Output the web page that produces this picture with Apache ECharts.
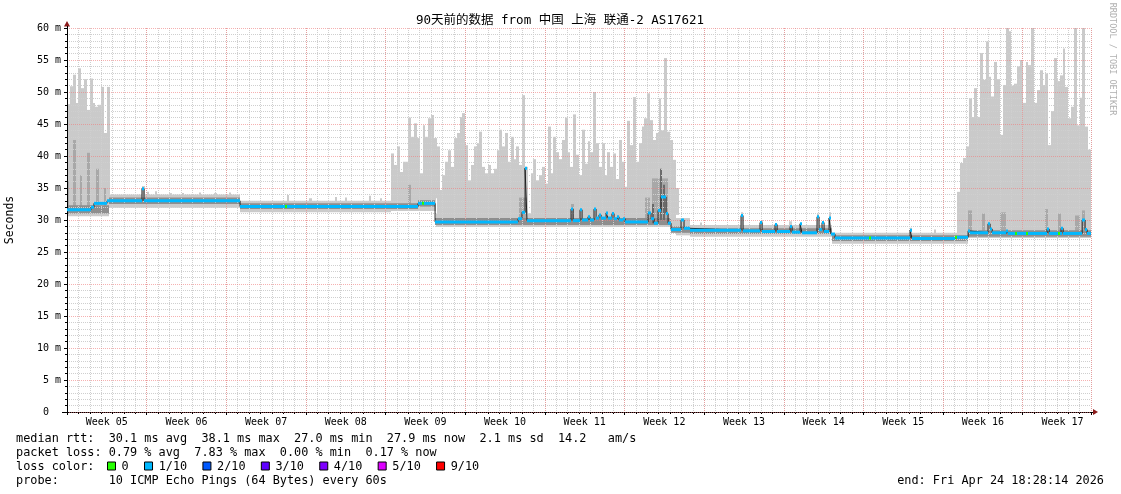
<!DOCTYPE html>
<html><head><meta charset="utf-8">
<script src="https://cdn.jsdelivr.net/npm/echarts@6/dist/echarts.min.js"></script>
<style>html,body{margin:0;padding:0;background:#fff}#c{width:1121px;height:494px}</style>
</head><body><div id="c"></div>
<script>
// ---------------- data (x in days since graph start, y in ms) ----------------
const chartTitle = '90天前的数据 from 中国 上海 联通-2 AS17621';
const weekLabels = ['Week 05','Week 06','Week 07','Week 08','Week 09','Week 10','Week 11','Week 12','Week 13','Week 14','Week 15','Week 16','Week 17'];
const yTickLabels = ['0  ','5 m','10 m','15 m','20 m','25 m','30 m','35 m','40 m','45 m','50 m','55 m','60 m'];
const totalDays = 90;

// light smoke band: [startDay, endDay, low, high]
const bandRuns = [
  [0, 3.65, 30.6, 33.5],
  [3.65, 15.21, 31.9, 34.0],
  [15.21, 28.48, 31.2, 33.0],
  [28.48, 32.43, 31.4, 33.6],
  [32.43, 53.53, 28.9, 31.0],
  [53.53, 54.76, 27.6, 30.3],
  [54.76, 67.24, 27.4, 29.2],
  [67.24, 79.2, 26.3, 28.0],
  [79.2, 90, 27.2, 29.0]
];
// small light-smoke peaks in calm periods: [startDay, endDay, low, high]
const peakRuns = [
  [6.6, 6.85, 32.5, 35.3], [7.05, 7.25, 32.5, 34.4], [7.75, 7.95, 32.5, 34.5], [9.0, 9.2, 32.5, 34.2],
  [10.1, 10.3, 32.5, 34.2], [11.6, 11.8, 32.5, 34.3], [12.95, 13.15, 32.5, 34.2], [14.25, 14.45, 32.5, 34.3],
  [19.3, 19.5, 31.8, 33.9], [21.3, 21.5, 31.8, 33.4], [23.55, 23.75, 31.8, 33.6], [24.4, 24.6, 31.8, 33.5],
  [26.5, 26.7, 31.8, 33.8], [27.5, 27.7, 31.8, 33.4],
  [55.6, 55.8, 28.0, 29.6], [59.2, 59.45, 28.0, 31.2], [61.0, 61.2, 28.0, 30.0], [63.5, 63.7, 28.0, 29.8],
  [65.9, 66.1, 28.0, 31.0], [66.95, 67.15, 28.0, 31.2], [74.05, 74.3, 26.8, 28.8], [76.2, 76.4, 26.8, 28.5]
];
// darker smoke core around the median: [startDay, endDay, low, high]
const coreRuns = [
  [0, 3.65, 31.0, 32.3],
  [3.65, 15.21, 32.5, 33.5],
  [15.21, 30.85, 31.7, 32.6],
  [30.85, 32.35, 32.1, 33.1],
  [32.35, 53.09, 29.2, 30.3],
  [53.09, 54.76, 28.0, 29.0],
  [54.76, 67.24, 27.8, 28.7],
  [67.24, 79.2, 26.7, 27.6],
  [79.2, 90, 27.4, 28.4]
];
// medium-grey smoke streaks: [startDay, endDay, low, high]
const midStreaks = [
  [0, 0.18, 31.0, 36.0], [0.53, 0.79, 31.0, 42.5], [1.14, 1.32, 31.0, 37.0], [1.76, 2.02, 31.0, 40.5],
  [2.55, 2.81, 31.5, 38.0], [3.25, 3.43, 32.0, 35.0],
  [29.97, 30.24, 32.5, 35.5], [39.73, 40.43, 30.0, 33.5], [44.3, 44.56, 30.0, 32.5],
  [50.81, 51.24, 29.5, 33.5], [51.42, 52.83, 29.3, 36.5],
  [79.2, 79.55, 27.8, 31.5], [80.43, 80.69, 27.8, 31.0], [82.0, 82.54, 27.8, 31.2], [85.96, 86.23, 27.8, 31.7],
  [87.1, 87.37, 27.8, 31.0], [88.6, 89.04, 27.8, 30.7], [89.22, 89.48, 27.8, 31.5]
];
// dark-grey smoke streaks: [startDay, endDay, low, high]
const darkStreaks = [
  [51.45, 51.62, 29.5, 32.5], [52.1, 52.28, 30.0, 38.0], [52.42, 52.56, 30.0, 35.5]
];
// tall smoke bursts: top of the lightest smoke, one value per 6 hours
const burstStep = 0.25;
const burstA_start = 0;
const burstA_top = [48.1, 50.9, 52.7, 48.3, 53.7, 50.6, 52.0, 47.2, 52.1, 48.3, 47.7, 48.0, 50.8, 43.6, 50.8];
const burstB_start = 28.5;
const burstB_top = [
  40.4, 38.6, 41.5, 37.5, 39.1, 39.1, 46.0, 43.0, 45.1, 42.8,
  37.3, 44.8, 43.0, 45.9, 46.4, 42.8, 41.5, 34.7, 37.0, 39.1,
  40.9, 38.3, 42.8, 43.6, 46.1, 46.7, 41.7, 36.2, 38.6, 41.5,
  42.0, 43.8, 38.3, 37.3, 38.6, 37.3, 38.0, 40.9, 44.1, 41.5,
  43.6, 39.1, 43.0, 39.5, 41.5, 38.6, 49.5, 38.3, 31.0, 37.3,
  39.5, 36.2, 37.0, 38.3, 35.7, 44.6, 37.3, 43.0, 40.6, 39.5,
  42.5, 46.0, 40.6, 38.3, 46.5, 40.2, 37.0, 44.1, 38.8, 42.3,
  40.6, 50.0, 42.0, 38.3, 42.0, 37.0, 40.6, 38.3, 40.4, 36.4,
  42.5, 39.1, 35.2, 45.5, 41.7, 49.2, 39.1, 42.0, 44.6, 45.9,
  49.8, 45.6, 42.5, 43.6, 49.0, 44.0, 55.3, 43.8, 42.5, 39.4,
  35.0];
const burstC_start = 78.25;
const burstC_top = [
  34.4, 38.9, 39.7, 41.5, 49.0, 46.1, 50.6, 46.1, 56.1, 51.9,
  57.9, 52.4, 49.3, 54.7, 52.0, 43.3, 51.1, 60.0, 59.5, 51.0,
  51.3, 54.0, 55.0, 48.3, 54.7, 54.2, 60.0, 48.3, 50.3, 53.4,
  51.1, 52.9, 41.7, 47.0, 55.3, 51.7, 52.6, 56.8, 50.8, 45.9,
  47.7, 60.0, 44.8, 49.1, 60.0, 44.6, 41.0];
// median rtt: [startDay, endDay, ms, loss in tenths]
const medianRuns = [
  [0, 2.11, 31.6, 1], [2.11, 2.37, 32.0, 1], [2.37, 3.52, 32.6, 1], [3.52, 6.59, 33.0, 1],
  [6.59, 6.77, 34.9, 1], [6.77, 15.21, 33.0, 1],
  [15.21, 19.16, 32.1, 1], [19.16, 19.34, 32.1, 0], [19.34, 30.85, 32.1, 1],
  [30.85, 31.2, 32.6, 1], [31.2, 31.38, 32.6, 0], [31.38, 32.35, 32.6, 1],
  [32.35, 39.64, 29.7, 1], [39.64, 39.99, 30.2, 1], [39.99, 40.26, 31.2, 1], [40.26, 40.43, 38.1, 1],
  [40.43, 44.3, 29.9, 1], [44.3, 44.48, 31.7, 1], [44.48, 45.09, 29.9, 1], [45.09, 45.27, 31.6, 1],
  [45.27, 45.79, 30.0, 1], [45.79, 45.97, 30.5, 1], [45.97, 46.32, 30.0, 1], [46.32, 46.5, 31.7, 1],
  [46.5, 46.76, 30.3, 1], [46.76, 46.94, 30.8, 1], [46.94, 47.38, 30.3, 1], [47.38, 47.55, 31.1, 1],
  [47.55, 47.9, 30.3, 1], [47.9, 48.08, 31.0, 1], [48.08, 48.34, 30.2, 1], [48.34, 48.52, 30.5, 1],
  [48.52, 48.87, 30.0, 1], [48.87, 49.05, 30.2, 1], [49.05, 51.07, 29.7, 1], [51.07, 51.33, 31.1, 1],
  [51.33, 51.6, 30.2, 1], [51.6, 51.95, 29.5, 1], [51.95, 52.21, 31.5, 1], [52.21, 52.65, 33.6, 1],
  [52.65, 52.83, 31.0, 1], [52.83, 53.09, 29.5, 1], [53.09, 53.97, 28.5, 1], [53.97, 54.23, 30.0, 1],
  [54.23, 54.76, 28.7, 1], [54.76, 59.24, 28.4, 1], [59.24, 59.42, 30.7, 1], [59.42, 60.91, 28.3, 1],
  [60.91, 61.09, 29.6, 1], [61.09, 62.23, 28.2, 1], [62.23, 62.41, 29.3, 1], [62.41, 63.55, 28.2, 1],
  [63.55, 63.73, 29.0, 1], [63.73, 64.43, 28.1, 1], [64.43, 64.6, 29.4, 1], [64.6, 65.92, 28.0, 1],
  [65.92, 66.1, 30.5, 1], [66.1, 66.36, 28.5, 1], [66.36, 66.54, 29.6, 1], [66.54, 66.98, 28.2, 1],
  [66.98, 67.15, 30.3, 1], [67.15, 67.5, 27.8, 1],
  [67.5, 70.5, 27.2, 1], [70.5, 70.7, 27.2, 0], [70.7, 74.1, 27.2, 1], [74.1, 74.27, 28.4, 1],
  [74.27, 78.05, 27.1, 1], [78.05, 78.23, 27.3, 0], [78.23, 79.2, 27.3, 1], [79.2, 79.37, 28.3, 1],
  [79.37, 80.95, 28.0, 1], [80.95, 81.13, 29.4, 1], [81.13, 81.31, 28.6, 1], [81.31, 82.54, 28.0, 1],
  [82.54, 82.71, 28.3, 1], [82.71, 83.35, 27.9, 1], [83.35, 83.5, 27.9, 0], [83.5, 84.3, 27.9, 1],
  [84.3, 84.45, 27.9, 0], [84.45, 86.14, 27.9, 1], [86.14, 86.32, 28.6, 1], [86.32, 87.1, 27.9, 1],
  [87.1, 87.25, 27.9, 0], [87.25, 87.37, 27.9, 1], [87.37, 87.55, 28.7, 1], [87.55, 89.22, 27.9, 1],
  [89.22, 89.48, 30.0, 1], [89.48, 89.66, 28.5, 1], [89.66, 90, 27.9, 1]
];
const lossLegendLabels = ['0', '1/10', '2/10', '3/10', '4/10', '5/10', '9/10'];
const lossLegendTenths = [0, 1, 2, 3, 4, 5, 9];
const lossColors = {0: '#26ff00', 1: '#00b8ff', 2: '#0059ff', 3: '#5e00ff', 4: '#7e00ff', 5: '#dd00ff', 9: '#ff0000'};
const medianStats = ['30.1', '38.1', '27.0', '27.9', '2.1'];
const medianAmS = '14.2';
const lossStats = ['0.79', '7.83', '0.00', '0.17'];
const probeText = '10 ICMP Echo Pings (64 Bytes) every 60s';
const endText = 'end: Fri Apr 24 18:28:14 2026';

// ---------------- rendering ----------------
const MONO = '"DejaVu Sans Mono", monospace';
const chart = echarts.init(document.getElementById('c'), null, {renderer: 'canvas'});

function bandHiAt(d) {
  for (const r of bandRuns) if (d >= r[0] && d < r[1]) return r[3];
  return bandRuns[bandRuns.length - 1][3];
}
function burstData(start, tops) {
  return tops.map((t, i) => {
    const d0 = start + i * burstStep;
    return [d0, d0 + burstStep, bandHiAt(d0) - 0.2, t];
  });
}
function rectRender(color) {
  return function (params, api) {
    const a = api.coord([api.value(0), api.value(3)]);
    const b = api.coord([api.value(1), api.value(2)]);
    const x0 = Math.round(a[0]);
    const x1 = Math.max(Math.round(b[0]), x0 + 1);
    return {type: 'rect', shape: {x: x0, y: a[1], width: x1 - x0, height: b[1] - a[1]}, style: {fill: color}};
  };
}
function rectSeries(data, color, z) {
  return {type: 'custom', data, z, silent: true, animation: false, clip: true,
    encode: {x: [0, 1], y: [2, 3]}, renderItem: rectRender(color)};
}
const LIGHT = '#cacaca', CORE = '#8e8e8e', MID = '#a8a8a8', DARK = '#6a6a6a';
const burstAll = burstData(burstA_start, burstA_top)
  .concat(burstData(burstB_start, burstB_top))
  .concat(burstData(burstC_start, burstC_top));

const medianLine = [];
medianRuns.forEach(r => { medianLine.push([r[0], r[2]]); medianLine.push([r[1], r[2]]); });

const gridMinor = {color: '#cfcfcf', type: [1, 1], width: 1};
const gridMajor = {color: 'rgba(240,125,125,0.6)', type: [1, 1], width: 1};

const series = [
  rectSeries(bandRuns, LIGHT, 1),
  rectSeries(peakRuns, LIGHT, 1),
  rectSeries(burstAll, LIGHT, 1),
  rectSeries(midStreaks, MID, 1),
  rectSeries(coreRuns, CORE, 1),
  rectSeries(darkStreaks, DARK, 1),
  {type: 'line', data: medianLine, z: 6, showSymbol: false, silent: true, animation: false,
    lineStyle: {color: '#202020', width: 1}},
  {type: 'custom', data: medianRuns, z: 7, silent: true, animation: false, clip: true,
    encode: {x: [0, 1], y: 2},
    renderItem(params, api) {
      const a = api.coord([api.value(0), api.value(2)]);
      const b = api.coord([api.value(1), api.value(2)]);
      const x0 = Math.round(a[0]);
      const x1 = Math.max(Math.round(b[0]), x0 + 2);
      return {type: 'rect', shape: {x: x0, y: a[1] - 1.5, width: x1 - x0, height: 3},
        style: {fill: lossColors[api.value(3)]}};
    }}
];

// legend graphics
const CH = 7.127;  // monospace advance at the legend font size
const LEG_FONT = '11.85px ' + MONO;
const rowY = [438.5, 452.5, 466.5, 480.5];
const graphic = [];
function txt(x, y, s, align) {
  graphic.push({type: 'text', x, y, z: 100, silent: true,
    style: {text: s, font: LEG_FONT, fill: '#000', align: align || 'left', verticalAlign: 'middle'}});
}
txt(16, rowY[0], 'median rtt:  ' + medianStats[0] + ' ms avg  ' + medianStats[1] + ' ms max  ' +
  medianStats[2] + ' ms min  ' + medianStats[3] + ' ms now  ' + medianStats[4] + ' ms sd  ' + medianAmS + '   am/s');
txt(16, rowY[1], 'packet loss: ' + lossStats[0] + ' % avg  ' + lossStats[1] + ' % max  ' +
  lossStats[2] + ' % min  ' + lossStats[3] + ' % now');
txt(16, rowY[2], 'loss color:');
let bx = 107;
lossLegendLabels.forEach((lab, i) => {
  graphic.push({type: 'rect', z: 100, silent: true, shape: {x: bx + 0.5, y: rowY[2] - 4.5, width: 8, height: 8},
    style: {fill: lossColors[lossLegendTenths[i]], stroke: '#000', lineWidth: 1}});
  txt(bx + 14.6, rowY[2], lab);
  bx = bx + 14.6 + lab.length * CH + 15.3;
});
txt(16, rowY[3], 'probe:       ' + probeText);
txt(1104, rowY[3], endText, 'right');
// title
graphic.push({type: 'text', x: 560, y: 21, z: 100, silent: true,
  style: {text: chartTitle, font: '12.5px ' + MONO + ', "Noto Sans CJK SC"', fill: '#000', align: 'center', verticalAlign: 'middle'}});
// rrdtool credit
graphic.push({type: 'text', x: 1112, y: 59, z: 100, silent: true, rotation: -Math.PI / 2,
  style: {text: 'RRDTOOL / TOBI OETIKER', font: '8.5px ' + MONO, fill: '#b0b0b0', align: 'center', verticalAlign: 'middle'}});
// axis arrows and line extensions
graphic.push({type: 'polygon', z: 100, silent: true, shape: {points: [[64, 26.5], [70, 26.5], [67, 21]]}, style: {fill: '#8b1a1a'}});
graphic.push({type: 'polygon', z: 100, silent: true, shape: {points: [[1093, 409], [1093, 415], [1098, 412]]}, style: {fill: '#8b1a1a'}});
graphic.push({type: 'line', z: 100, silent: true, shape: {x1: 62, y1: 412.5, x2: 67, y2: 412.5}, style: {stroke: '#000', lineWidth: 1}});
graphic.push({type: 'line', z: 100, silent: true, shape: {x1: 1091, y1: 412.5, x2: 1093, y2: 412.5}, style: {stroke: '#000', lineWidth: 1}});
graphic.push({type: 'line', z: 100, silent: true, shape: {x1: 67.5, y1: 26, x2: 67.5, y2: 28}, style: {stroke: '#000', lineWidth: 1}});

const xBase = {type: 'value', min: 0, max: totalDays, position: 'bottom', offset: 0};
const option = {
  animation: false,
  backgroundColor: '#fff',
  textStyle: {fontFamily: MONO},
  grid: {left: 67, top: 28, width: 1024, height: 384, containLabel: false, outerBoundsMode: 'none'},
  xAxis: [
    Object.assign({}, xBase, {interval: 1, z: 3,
      axisLine: {show: true, onZero: false, lineStyle: {color: '#000', width: 1}},
      axisTick: {show: true, length: 2, lineStyle: {color: '#000'}},
      axisLabel: {show: false},
      splitLine: {show: true, lineStyle: gridMinor}}),
    Object.assign({}, xBase, {interval: 7, z: 4,
      axisLine: {show: false},
      axisTick: {show: true, length: 3, lineStyle: {color: '#000'}},
      axisLabel: {show: false},
      splitLine: {show: true, lineStyle: gridMajor}}),
    Object.assign({}, xBase, {interval: 3.5, z: 4,
      axisLine: {show: false}, axisTick: {show: false}, splitLine: {show: false},
      axisLabel: {show: true, margin: 5, color: '#000', fontFamily: MONO, fontSize: 10,
        showMinLabel: false, showMaxLabel: false,
        formatter: v => {
          const k = Math.round(v / 3.5);
          if (k % 2 === 0) return '';
          return weekLabels[(k - 1) / 2] || '';
        }}})
  ],
  yAxis: [{
    type: 'value', min: 0, max: 60, interval: 5, z: 4,
    name: 'Seconds', nameLocation: 'middle', nameGap: 51, nameRotate: 90,
    nameTextStyle: {fontFamily: MONO, fontSize: 11.5, color: '#000'},
    axisLine: {show: true, lineStyle: {color: '#000', width: 1}},
    axisTick: {show: true, length: 3, lineStyle: {color: '#000'}},
    minorTick: {show: true, splitNumber: 5, length: 2, lineStyle: {color: '#000'}},
    axisLabel: {margin: 6, color: '#000', fontFamily: MONO, fontSize: 10,
      formatter: v => yTickLabels[Math.round(v / 5)]},
    splitLine: {show: true, lineStyle: gridMajor},
    minorSplitLine: {show: true, lineStyle: gridMinor}
  }],
  series: series.map(s => Object.assign(s, {xAxisIndex: 0, yAxisIndex: 0})),
  graphic: graphic
};
chart.setOption(option);
</script>
</body></html>
